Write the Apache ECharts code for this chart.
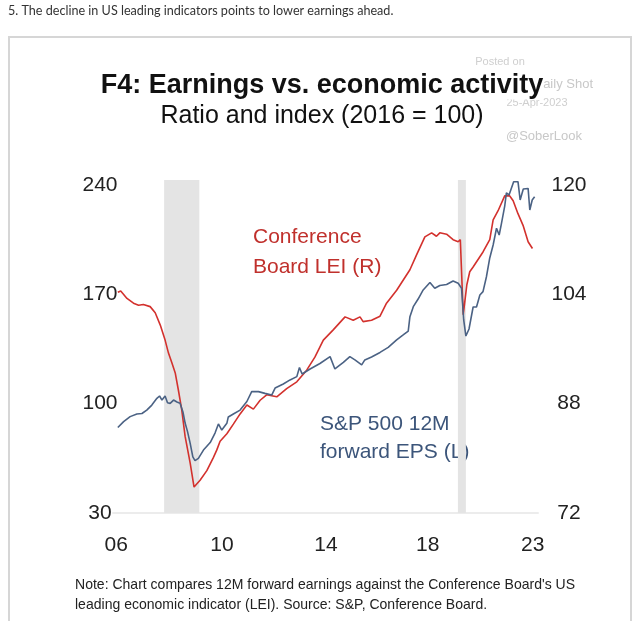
<!DOCTYPE html>
<html>
<head>
<meta charset="utf-8">
<script src="https://cdn.jsdelivr.net/npm/echarts@6/dist/echarts.min.js"></script>
<style>
html,body{margin:0;padding:0;background:#fff;}
#chart{width:640px;height:621px;}
</style>
</head>
<body>
<div id="chart"></div>
<script>
// S&P 500 12M forward EPS (left axis), [decimal year, value]
var epsData = [
  [2006.00,84.7],[2006.24,88.5],[2006.51,91.7],[2006.79,93.4],[2007.00,93.7],[2007.20,95.9],
  [2007.41,99.1],[2007.62,103.4],[2007.73,104.9],[2007.83,102.3],[2007.96,104.9],[2008.06,100.6],
  [2008.17,100.2],[2008.31,102.3],[2008.45,101.1],[2008.58,100.2],[2008.70,94.7],[2008.79,87.6],
  [2008.89,82.1],[2009.00,74.6],[2009.11,65.9],[2009.20,63.5],[2009.34,65.0],[2009.55,70.3],
  [2009.83,75.1],[2010.03,81.2],[2010.17,87.0],[2010.31,83.1],[2010.38,83.8],[2010.52,87.4],
  [2010.58,91.5],[2010.79,93.4],[2011.07,95.9],[2011.35,101.4],[2011.55,107.7],[2011.62,108.3],
  [2011.83,107.7],[2012.10,106.6],[2012.38,105.5],[2012.52,110.0],[2012.86,112.6],[2013.14,115.2],
  [2013.42,117.3],[2013.53,123.2],[2013.64,119.0],[2013.97,122.2],[2014.38,125.7],[2014.80,130.1],
  [2015.00,122.2],[2015.35,126.4],[2015.62,130.1],[2015.83,128.0],[2016.11,124.8],[2016.24,128.0],
  [2016.52,129.9],[2016.87,132.8],[2017.21,136.0],[2017.56,140.8],[2017.83,144.0],[2018.04,146.5],
  [2018.11,155.7],[2018.25,162.1],[2018.45,167.0],[2018.66,172.8],[2018.94,177.6],[2019.14,173.9],
  [2019.35,175.7],[2019.63,176.3],[2019.90,178.5],[2020.11,177.1],[2020.25,173.9],[2020.34,153.6],
  [2020.43,143.3],[2020.56,147.8],[2020.73,161.9],[2020.87,161.9],[2021.01,169.6],[2021.14,171.7],
  [2021.28,181.1],[2021.42,193.3],[2021.56,201.6],[2021.70,212.3],[2021.81,208.0],[2021.90,215.0],
  [2022.04,226.5],[2022.11,234.9],[2022.22,233.6],[2022.41,242.1],[2022.59,242.1],[2022.68,230.4],
  [2022.81,237.4],[2023.01,237.8],[2023.08,224.0],[2023.18,230.4],[2023.28,232.5]
];
// Conference Board LEI (right axis), [decimal year, value]
var leiData = [
  [2006.00,104.3],[2006.12,104.5],[2006.38,103.4],[2006.65,102.7],[2006.86,102.4],[2007.06,102.5],
  [2007.34,102.2],[2007.55,101.3],[2007.76,99.5],[2007.96,97.3],[2008.10,95.4],[2008.24,94.0],
  [2008.38,92.5],[2008.51,90.0],[2008.65,87.1],[2008.79,83.2],[2009.00,79.3],[2009.16,75.8],
  [2009.41,76.8],[2009.69,78.2],[2009.96,80.1],[2010.10,81.2],[2010.24,82.5],[2010.52,83.6],
  [2010.79,85.0],[2011.07,86.5],[2011.35,87.8],[2011.62,87.2],[2011.90,88.5],[2012.17,89.3],
  [2012.59,89.0],[2013.00,90.2],[2013.42,91.2],[2013.83,92.9],[2014.17,94.8],[2014.52,97.3],
  [2014.93,98.8],[2015.42,100.7],[2015.76,100.2],[2016.04,100.7],[2016.17,100.0],[2016.52,100.2],
  [2016.87,100.8],[2017.14,102.7],[2017.56,104.6],[2018.11,107.6],[2018.39,109.8],[2018.73,112.4],
  [2019.01,113.0],[2019.21,112.5],[2019.35,113.0],[2019.63,112.8],[2019.90,112.0],[2020.11,111.7],
  [2020.20,112.0],[2020.32,101.0],[2020.47,105.4],[2020.59,107.3],[2020.73,108.0],[2021.01,109.5],
  [2021.14,110.2],[2021.42,112.0],[2021.56,114.9],[2021.76,116.2],[2022.04,118.4],[2022.25,118.4],
  [2022.39,117.7],[2022.59,115.8],[2022.80,114.1],[2023.01,111.7],[2023.19,110.7]
];
// US recessions [start, end] in decimal years
var recessions = [[2007.92, 2009.38], [2020.10, 2020.43]];
// x-axis tick labels and positions (decimal years)
var xTickLabels = ['06', '10', '14', '18', '23'];
var xTickPos = [2005.93, 2010.32, 2014.63, 2018.85, 2023.20];
// y-axis tick labels
var leftTicks = [30, 100, 170, 240];
var rightTicks = [72, 88, 104, 120];
// axis tops (a little above the top tick, where the recession shading ends)
var leftMax = 243.2, rightMax = 120.73;

var RED = '#d3312d', BLUE = '#4b6284';
var FONT = '"Liberation Sans", Arial, sans-serif';

var chart = echarts.init(document.getElementById('chart'), null, {renderer: 'canvas'});
var option = {
  backgroundColor: '#fff',
  animation: false,
  grid: {left: 113, right: 102, top: 180, bottom: 108, containLabel: false},
  xAxis: {
    type: 'value', min: 2005.8, max: 2023.42,
    splitLine: {show: false},
    axisLine: {show: true, lineStyle: {color: '#ececec', width: 2}},
    axisTick: {show: false},
    axisLabel: {
      customValues: xTickPos,
      formatter: function (v) {
        var i = xTickPos.indexOf(v);
        return i >= 0 ? xTickLabels[i] : '';
      },
      color: '#222', fontSize: 21, fontFamily: FONT, margin: 22
    }
  },
  yAxis: [{
    type: 'value', min: leftTicks[0], max: leftMax,
    splitLine: {show: false}, axisLine: {show: false}, axisTick: {show: false},
    axisLabel: {customValues: leftTicks, color: '#222', fontSize: 21, fontFamily: FONT, align: 'center', margin: 13}
  }, {
    type: 'value', min: rightTicks[0], max: rightMax,
    splitLine: {show: false}, axisLine: {show: false}, axisTick: {show: false},
    axisLabel: {customValues: rightTicks, color: '#222', fontSize: 21, fontFamily: FONT, align: 'center', margin: 31}
  }],
  series: [{
    name: 'Conference Board LEI (R)', type: 'line', yAxisIndex: 1, data: leiData,
    showSymbol: false, clip: false, z: 3,
    lineStyle: {color: RED, width: 1.6},
    markArea: {
      silent: true,
      itemStyle: {color: '#e4e4e4'},
      data: recessions.map(function (r) {
        return [{xAxis: r[0], yAxis: rightTicks[0]}, {xAxis: r[1], yAxis: rightMax}];
      })
    }
  }, {
    name: 'S&P 500 12M forward EPS (L)', type: 'line', yAxisIndex: 0, data: epsData,
    showSymbol: false, clip: false, z: 4,
    lineStyle: {color: BLUE, width: 1.6}
  }],
  graphic: [
    {type: 'rect', shape: {x: 9, y: 37, width: 622, height: 620}, style: {fill: 'none', stroke: '#d6d6d6', lineWidth: 2}, z: 0},
    {type: 'text', x: 8, y: 11, style: {text: '5. The decline in US leading indicators points to lower earnings ahead.', font: '12.6px Lato, sans-serif', fill: '#333', textVerticalAlign: 'middle'}},
    {type: 'text', x: 500, y: 62, style: {text: 'Posted on', font: '11px ' + FONT, fill: '#cfcfcf', textAlign: 'center', textVerticalAlign: 'middle'}},
    {type: 'text', x: 593, y: 84, style: {text: 'The Daily Shot', font: '13px ' + FONT, fill: '#c8c8c8', textAlign: 'right', textVerticalAlign: 'middle'}},
    {type: 'text', x: 537, y: 103, style: {text: '25-Apr-2023', font: '11px ' + FONT, fill: '#cfcfcf', textAlign: 'center', textVerticalAlign: 'middle'}},
    {type: 'text', x: 544, y: 136, style: {text: '@SoberLook', font: '13px ' + FONT, fill: '#c8c8c8', textAlign: 'center', textVerticalAlign: 'middle'}},
    {type: 'text', x: 322, y: 86, z: 10, style: {text: 'F4: Earnings vs. economic activity', font: 'bold 27px ' + FONT, fill: '#111', textAlign: 'center', textVerticalAlign: 'middle', backgroundColor: '#fff'}},
    {type: 'text', x: 322, y: 116, style: {text: 'Ratio and index (2016 = 100)', font: '25px ' + FONT, fill: '#111', textAlign: 'center', textVerticalAlign: 'middle'}},
    {type: 'text', x: 253, y: 222, style: {text: 'Conference\nBoard LEI (R)', font: '21px ' + FONT, fill: '#c0302c', lineHeight: 30, textVerticalAlign: 'top'}},
    {type: 'text', x: 320, y: 410, style: {text: 'S&P 500 12M\nforward EPS (L)', font: '21px ' + FONT, fill: '#3c557a', lineHeight: 28, textVerticalAlign: 'top'}},
    {type: 'text', x: 75, y: 575, scaleX: 0.935, style: {text: "Note: Chart compares 12M forward earnings against the Conference Board's US\nleading economic indicator (LEI). Source: S&P, Conference Board.", font: '15px ' + FONT, fill: '#222', lineHeight: 20, textVerticalAlign: 'top'}}
  ]
};
chart.setOption(option);
</script>
</body>
</html>
